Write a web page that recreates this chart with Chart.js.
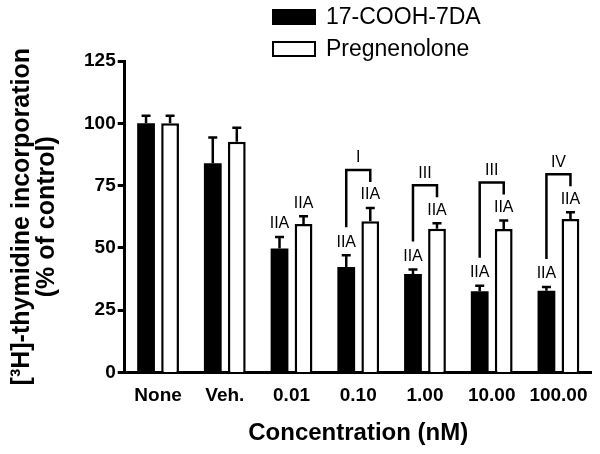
<!DOCTYPE html>
<html>
<head>
<meta charset="utf-8">
<script src="https://cdn.jsdelivr.net/npm/chart.js@4.4.0/dist/chart.umd.min.js"></script>
<style>
html, body { margin: 0; padding: 0; background: #fff; }
</style>
</head>
<body>
<canvas id="thymidineChart" width="600" height="454"></canvas>
<script>
var concentrations = ['None', 'Veh.', '0.01', '0.10', '1.00', '10.00', '100.00'];
var seriesNames = ['17-COOH-7DA', 'Pregnenolone'];
var coohValues = [100, 84, 49.7, 42.3, 39.5, 32.6, 32.8];
var coohErrors = [3, 10.3, 4.7, 4.7, 1.8, 2.2, 1.5];
var pregValues = [100, 92.6, 59.6, 60.7, 57.7, 57.6, 61.6];
var pregErrors = [3, 5.6, 3.1, 5.3, 2.2, 3.4, 2.7];
var coohMarks = ['', '', 'IIA', 'IIA', 'IIA', 'IIA', 'IIA'];
var pregMarks = ['', '', 'IIA', 'IIA', 'IIA', 'IIA', 'IIA'];
var pairMarks = ['', '', '', 'I', 'III', 'III', 'IV'];
var yTicks = [0, 25, 50, 75, 100, 125];

var FONT = "'Liberation Sans', Arial, Helvetica, sans-serif";
var errorSets = [coohErrors, pregErrors];
var markSets = [coohMarks, pregMarks];

// error bars (upper only), IIA labels and the brackets between the pairs
var annotatePlugin = {
	id: 'annotate',
	afterDatasetsDraw: function (chart) {
		var ctx = chart.ctx;
		var yScale = chart.scales.y;
		var tops = [[], []];
		ctx.save();
		ctx.strokeStyle = '#000';
		ctx.fillStyle = '#000';
		ctx.lineWidth = 2.5;
		chart.data.datasets.forEach(function (ds, di) {
			var meta = chart.getDatasetMeta(di);
			meta.data.forEach(function (bar, i) {
				var top = yScale.getPixelForValue(ds.data[i] + errorSets[di][i]);
				tops[di][i] = top;
				ctx.beginPath();
				ctx.moveTo(bar.x, bar.y);
				ctx.lineTo(bar.x, top);
				ctx.moveTo(bar.x - 4.5, top);
				ctx.lineTo(bar.x + 4.5, top);
				ctx.stroke();
				if (markSets[di][i]) {
					ctx.font = '16px ' + FONT;
					ctx.textAlign = 'center';
					ctx.textBaseline = 'bottom';
					ctx.fillText(markSets[di][i], bar.x, top - 5);
				}
			});
		});
		var m0 = chart.getDatasetMeta(0), m1 = chart.getDatasetMeta(1);
		pairMarks.forEach(function (txt, i) {
			if (!txt) return;
			var lx = m0.data[i].x, rx = m1.data[i].x;
			var lb = tops[0][i] - 28, rb = tops[1][i] - 26;
			var top = Math.min(lb, rb) - 12;
			ctx.beginPath();
			ctx.moveTo(lx, lb);
			ctx.lineTo(lx, top);
			ctx.lineTo(rx, top);
			ctx.lineTo(rx, rb);
			ctx.stroke();
			ctx.font = '16px ' + FONT;
			ctx.textAlign = 'center';
			ctx.textBaseline = 'bottom';
			ctx.fillText(txt, (lx + rx) / 2, top - 4);
		});
		ctx.restore();
	}
};

// two-row legend in the top right corner
var legendPlugin = {
	id: 'stackedLegend',
	afterDraw: function (chart) {
		var ctx = chart.ctx;
		ctx.save();
		chart.data.datasets.forEach(function (ds, di) {
			var cy = 17 + di * 32;
			ctx.fillStyle = ds.backgroundColor;
			ctx.strokeStyle = '#000';
			ctx.lineWidth = 2;
			ctx.fillRect(273, cy - 7, 42, 14);
			ctx.strokeRect(273, cy - 7, 42, 14);
			ctx.fillStyle = '#000';
			ctx.font = '23px ' + FONT;
			ctx.textAlign = 'left';
			ctx.textBaseline = 'middle';
			ctx.fillText(ds.label, 326, cy + 1);
		});
		ctx.restore();
	}
};

var ctx = document.getElementById('thymidineChart').getContext('2d');

var thymidineChart = new Chart(ctx, {
	type: 'bar',
	data: {
		labels: concentrations,
		datasets: [{
			label: seriesNames[0],
			data: coohValues,
			backgroundColor: '#000',
			borderColor: '#000',
			borderWidth: 0
		}, {
			label: seriesNames[1],
			data: pregValues,
			backgroundColor: '#fff',
			borderColor: '#000',
			borderWidth: 2.5
		}]
	},
	options: {
		responsive: false,
		animation: false,
		devicePixelRatio: 1,
		categoryPercentage: 0.72,
		barPercentage: 0.74,
		layout: { padding: { top: 61, right: 7, bottom: 6, left: 10 } },
		plugins: {
			legend: { display: false },
			tooltip: { enabled: false }
		},
		scales: {
			x: {
				grid: { display: false, drawTicks: false },
				border: { display: true, color: '#000', width: 3 },
				ticks: {
					color: '#000',
					autoSkip: false,
					maxRotation: 0,
					padding: 12,
					font: { family: FONT, size: 19, weight: 'bold' }
				},
				title: {
					display: true,
					text: 'Concentration (nM)',
					color: '#000',
					padding: { top: 0, bottom: 0 },
					font: { family: FONT, size: 24, weight: 'bold' }
				}
			},
			y: {
				min: 0,
				max: 125,
				afterBuildTicks: function (scale) {
					scale.ticks = yTicks.map(function (v) { return { value: v }; });
				},
				grid: { drawOnChartArea: false, drawTicks: true, tickLength: 7, tickWidth: 3, tickColor: '#000' },
				border: { display: true, color: '#000', width: 3 },
				ticks: {
					color: '#000',
					padding: 2,
					font: { family: FONT, size: 19, weight: 'bold' }
				},
				title: {
					display: true,
					text: ['[\u00B3H]-thymidine incorporation', '(% of control)'],
					color: '#000',
					padding: { top: 0, bottom: 22 },
					font: { family: FONT, size: 25, weight: 'bold', lineHeight: 1.0 }
				}
			}
		}
	},
	plugins: [annotatePlugin, legendPlugin]
});
</script>
</body>
</html>
